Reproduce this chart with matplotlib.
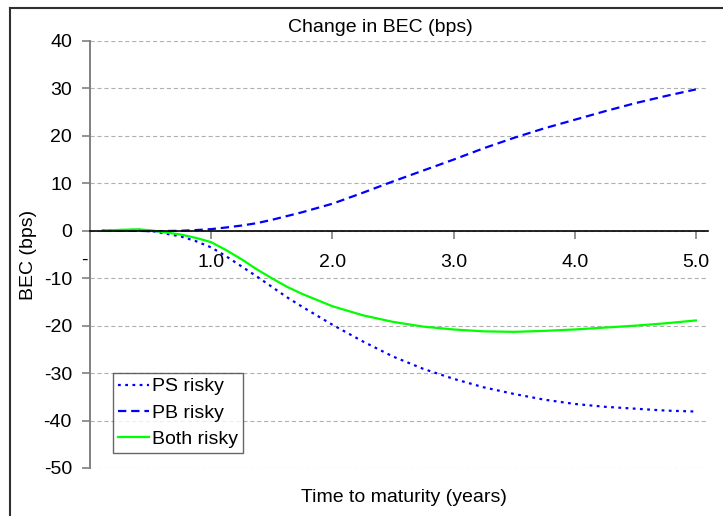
import matplotlib
matplotlib.use("Agg")
import matplotlib.pyplot as plt
from matplotlib.lines import Line2D

plt.rcParams["font.family"] = ["Liberation Sans", "DejaVu Sans"]
plt.rcParams["lines.scale_dashes"] = False
plt.rcParams["axes.unicode_minus"] = False

maturity = [0.1, 0.25, 0.4, 0.5, 0.75, 0.875, 1.0, 1.125, 1.25, 1.375, 1.5, 1.625,
            1.75, 2.0, 2.25, 2.5, 2.75, 3.0, 3.25, 3.5, 3.75, 4.0, 4.25, 4.5, 4.75, 5.0]
ps_risky = [0.0, 0.1, 0.2, 0.0, -1.2, -2.2, -3.5, -5.4, -7.5, -9.6, -11.8, -14.0,
            -16.0, -19.8, -23.3, -26.5, -29.1, -31.2, -33.0, -34.4, -35.6, -36.5,
            -37.1, -37.5, -37.9, -38.1]
pb_risky = [0.0, 0.0, 0.0, -0.1, 0.0, 0.15, 0.35, 0.7, 1.1, 1.6, 2.3, 3.1,
            3.9, 5.7, 8.0, 10.4, 12.7, 15.0, 17.4, 19.6, 21.6, 23.4,
            25.2, 26.9, 28.4, 29.8]
both_risky = [0.0, 0.2, 0.3, 0.1, -0.8, -1.5, -2.4, -4.1, -6.0, -8.1, -10.0, -11.8,
              -13.3, -15.9, -17.8, -19.2, -20.2, -20.8, -21.2, -21.3, -21.1, -20.8,
              -20.4, -20.0, -19.5, -18.9]

x_ticks = [1.0, 2.0, 3.0, 4.0, 5.0]
x_tick_labels = ["1.0", "2.0", "3.0", "4.0", "5.0"]
y_ticks = [40, 30, 20, 10, 0, -10, -20, -30, -40, -50]

fig = plt.figure(figsize=(7.23, 5.16), dpi=100)
ax = fig.add_axes([90 / 723, 1 - 468 / 516, 618 / 723, 427 / 516])

ax.plot(maturity, ps_risky, color="#0000ff", lw=1.6, dashes=(2, 3.2), label="PS risky")
ax.plot(maturity, pb_risky, color="#0000ff", lw=1.6, dashes=(6, 3.5), label="PB risky")
ax.plot(maturity, both_risky, color="#00ff00", lw=1.6, label="Both risky")

ax.set_xlim(0, 5.1)
ax.set_ylim(-50, 40)
ax.set_yticks(y_ticks)
ax.set_xticks(x_ticks)
ax.set_xticklabels(x_tick_labels)

ax.yaxis.grid(True, color="#b0b0b0", lw=0.8, ls=(0, (3, 2)))
ax.set_axisbelow(True)

for side in ["top", "right"]:
    ax.spines[side].set_visible(False)
ax.spines["left"].set_color("#808080")
ax.spines["left"].set_linewidth(1.4)
ax.spines["bottom"].set_position(("data", 0))
ax.spines["bottom"].set_color("black")
ax.spines["bottom"].set_linewidth(1.2)

ax.tick_params(axis="y", direction="out", length=6, width=1.2, color="#808080",
               labelsize=14, pad=7)
ax.tick_params(axis="x", direction="out", length=6, width=1.2, color="#808080",
               labelsize=14, pad=11)

# zero label on the x axis shows as a dash
ax.text(-0.05, -6.3, "-", ha="center", va="center", fontsize=14)

ax.set_ylabel("BEC (bps)", fontsize=14)
ax.yaxis.set_label_coords(-0.085, 0.5)

fig.text(380 / 723, 1 - 28 / 516, "Change in BEC (bps)", ha="center", va="center",
         fontsize=14)
fig.text(404 / 723, 1 - 497 / 516, "Time to maturity (years)", ha="center",
         va="center", fontsize=14)

leg = ax.legend(loc="lower left", bbox_to_anchor=(0.037, 0.035), fontsize=14,
                frameon=True, fancybox=False, handlelength=1.6, handletextpad=0.15,
                labelspacing=0.45, borderpad=0.25, borderaxespad=0)
leg.get_frame().set_edgecolor("#404040")
leg.get_frame().set_linewidth(1.0)

# outer frame
fig.add_artist(Line2D([10 / 723, 1], [1 - 8 / 516, 1 - 8 / 516],
                      transform=fig.transFigure, color="#303030", lw=1.5))
fig.add_artist(Line2D([10 / 723, 10 / 723], [0, 1 - 8 / 516],
                      transform=fig.transFigure, color="#303030", lw=1.5))

fig.savefig("out.png", dpi=100)
